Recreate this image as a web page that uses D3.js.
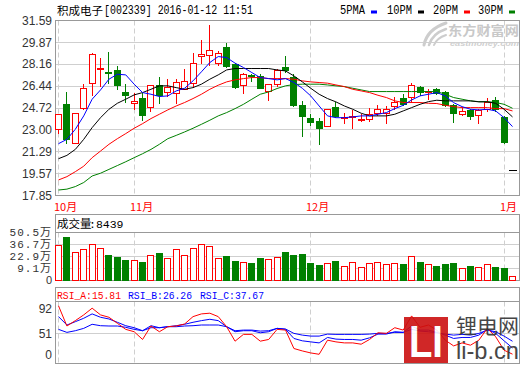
<!DOCTYPE html>
<html>
<head>
<meta charset="utf-8">
<script src="https://cdn.jsdelivr.net/npm/d3@7"></script>
<style>
  body { margin: 0; background: #fff; }
  svg { display: block; }
  text { font-family: "Liberation Sans", Arial, sans-serif; }
</style>
</head>
<body>
<div id="chart"></div>
<script>
// ---------------- data ----------------
const opens  = [23.10,25.01,22.00,24.75,26.67,27.78,27.52,27.69,26.01,25.15, 25.54,24.83,26.51,26.01,25.93,26.25,26.72,28.78,28.90,28.24, 29.50,28.16,26.53,27.35,27.24,26.06,26.64,27.90,27.16,24.93, 23.96,23.70,23.31,24.83,23.94,24.07,23.75,23.88,24.36,24.36, 24.88,25.54,25.62,26.40,25.98,26.25,26.01,24.93,24.28,24.54, 24.15,24.67,25.33,24.02,19.85];
const highs  = [24.28,25.98,24.36,26.64,29.03,28.68,29.08,28.03,26.64,25.93, 25.93,26.53,27.19,26.98,27.03,27.77,29.00,30.02,31.20,29.16, 29.84,28.29,27.50,27.40,27.40,26.60,27.77,28.82,27.37,25.28, 24.23,23.96,24.62,25.20,24.36,24.54,24.23,24.70,24.96,24.88, 25.59,25.80,26.72,26.45,26.25,26.32,26.06,25.00,24.83,24.67, 24.62,25.54,25.59,24.10,19.85];
const lows   = [22.78,22.00,21.95,24.67,25.72,26.46,26.72,26.25,25.22,24.67, 23.75,24.49,25.14,25.67,25.09,26.20,26.40,28.24,28.10,28.10, 27.90,26.30,25.93,26.85,26.30,25.35,26.46,27.55,24.90,22.52, 23.36,21.92,23.30,24.05,23.52,23.18,23.70,23.70,24.15,23.57, 24.67,24.93,25.20,25.72,25.46,25.80,24.88,23.62,24.20,23.83, 23.52,24.49,24.49,22.00,19.85];
const closes = [24.28,22.26,24.36,26.32,28.95,27.85,27.48,26.53,25.75,25.28, 24.17,26.51,25.75,26.40,26.80,26.85,28.29,28.95,29.30,29.02, 28.00,26.40,27.37,27.30,26.32,26.59,27.69,27.72,24.96,24.10, 23.62,23.13,24.62,24.10,23.98,24.12,23.88,24.28,24.67,24.62, 25.20,25.01,26.51,25.98,26.03,25.93,24.93,24.36,24.49,24.10, 24.54,25.20,24.62,22.05,19.85];

// volume, in 万
const volumes = [36.1,45.7,27.7,31.5,36.9,32.3,24.6,22.3,19.2,18.9, 16.6,24.3,26.9,20.8,31.2,24.3,32.3,36.9,34.6,20.8, 23.5,17.7,16.2,15.1,21.2,19.7,22.0,28.4,24.6,25.8, 15.4,13.1,15.1,17.7,11.6,16.2,10.5,15.1,16.2,13.9, 15.1,14.3,23.8,16.6,13.9,12.0,13.9,15.4,9.3,12.0, 10.5,13.9,10.8,9.7,0.8439];

const ma5  = [21.92,22.26,23.05,24.10,25.41,26.14,26.98,27.37,27.32,26.59, 25.93,25.80,25.62,25.67,26.06,26.27,26.85,27.56,28.29,28.76, 28.68,28.24,27.90,27.50,27.11,27.03,26.93,27.03,26.72,26.27, 25.67,24.88,24.10,23.96,23.96,24.02,24.10,24.10,24.23,24.36, 24.67,24.93,25.35,25.67,25.80,25.93,25.67,25.14,24.83,24.62, 24.57,24.62,24.49,23.96,23.26];
const ma10 = [20.74,21.00,21.47,22.26,23.18,23.96,24.62,25.09,25.41,25.75, 25.93,26.19,26.46,26.46,26.32,26.19,26.32,26.59,26.98,27.32, 27.71,27.82,27.82,27.82,27.82,27.82,27.71,27.63,27.24,26.77, 26.27,25.80,25.46,25.20,24.88,24.62,24.31,24.10,24.10,24.10, 24.23,24.49,24.75,25.01,25.22,25.33,25.28,25.28,25.28,25.28, 25.20,25.20,25.09,24.62,24.02];
const ma20 = [19.07,19.33,19.72,20.15,20.82,21.34,21.87,22.31,22.71,23.13, 23.49,23.89,24.23,24.57,24.88,25.15,25.46,25.80,26.19,26.51, 26.77,26.93,27.03,27.11,27.11,27.03,27.03,27.03,26.98,26.85, 26.77,26.72,26.67,26.53,26.40,26.19,26.06,25.93,25.72,25.54, 25.28,25.15,25.15,25.15,25.09,25.07,24.93,24.83,24.75,24.75, 24.75,24.75,24.67,24.67,24.49];
const ma30 = [18.28,18.35,18.55,18.87,19.38,19.60,19.90,20.20,20.50,20.82, 21.13,21.47,21.87,22.31,22.57,22.84,23.13,23.44,23.76,24.10, 24.36,24.67,25.01,25.41,25.80,25.98,26.25,26.46,26.56,26.59, 26.59,26.59,26.53,26.46,26.40,26.27,26.14,26.01,26.01,26.01, 26.01,26.01,26.01,26.01,26.01,26.01,25.80,25.54,25.41,25.28, 25.22,25.22,25.15,25.01,24.70];

const rsiA = [97.7,63.5,72.6,82.3,93.7,82.3,78.3,68.1,57.8,53.8, 40.7,63.5,53.8,62.3,63.5,66.9,79.4,84.0,85.2,79.4, 62.3,37.8,49.3,49.3,37.8,40.7,57.8,56.6,25.4,21.3, 17.9,15.6,39.5,36.6,34.9,34.9,32.7,40.7,52.0,51.0, 60.6,56.6,80.6,61.3,65.2,56.6,39.5,29.8,34.9,31.0, 39.5,59.5,45.2,22.5,15.81];
const rsiB = [79.4,65.2,70.8,76.6,84.0,78.3,75.4,69.8,64.0,60.6, 55.5,64.0,60.6,62.3,64.0,66.4,69.8,72.6,74.9,72.6, 62.3,53.8,55.5,55.5,52.0,53.8,59.5,57.8,42.4,38.4, 36.6,34.9,44.1,41.3,40.7,40.7,39.5,43.5,49.8,49.8, 53.8,52.7,63.5,56.6,56.6,52.7,48.1,42.4,44.1,44.1, 48.1,57.8,51.0,38.4,26.26];
const rsiC = [57.8,52.7,55.5,59.5,66.4,64.0,63.5,63.5,61.3,57.8, 55.5,60.6,60.6,62.3,62.3,63.5,64.0,65.2,65.2,65.2, 62.3,55.5,56.6,56.6,54.9,55.5,59.5,58.4,51.0,48.1, 46.4,46.4,49.8,49.3,49.3,49.3,49.3,49.8,51.0,51.0, 52.7,52.7,57.8,54.9,53.8,52.0,49.8,48.1,49.3,48.1, 51.0,56.6,53.8,46.4,37.67];

// axes / ticks
const priceTicks = [31.59, 29.87, 28.16, 26.44, 24.72, 23.00, 21.29, 19.57, 17.85];
const volTicks = [50.5, 36.7, 22.9, 9.1];
const volTickLabels = ["50.5万", "36.7万", "22.9万", "9.1万"];
const rsiTicks = [92, 51, 0];
const monthIdx = [0, 9, 30, 53];
const monthLabels = ["10月", "11月", "12月", "1月"];

const stockTitle = "积成电子";
const stockInfo = "[002339] 2016-01-12 11:51";
const maNames = ["5PMA", "10PM", "20PM", "30PM"];
const rsiNames = ["RSI_A", "RSI_B", "RSI_C"];

// ---------------- setup ----------------
const red = "#ff0000", green = "#008000", blue = "#0000ff";
const gridColor = "#cfcfcf", borderColor = "#999";
const panelL = 55.5, panelR = 519.5;

const svg = d3.select("#chart").append("svg")
  .attr("width", 520).attr("height", 365);

const n = closes.length;
const x = d3.scaleLinear().domain([0, n - 1]).range([58, 512]);
const px = i => Math.round(x(i));

const yP = d3.scaleLinear().domain([17.85, 31.59]).range([195.5, 20.5]);
const yV = d3.scaleLinear().domain([-4.7, 50.5]).range([280.5, 232.5]);
const yR = d3.scaleLinear().domain([0, 105]).range([363.5, 301.5]);
const snap = v => Math.round(v - 0.5) + 0.5;

const candles = d3.range(n).map(i => ({
  i, o: opens[i], h: highs[i], l: lows[i], c: closes[i], v: volumes[i]
}));
const kColor = d => d.c > d.o ? red : d.c < d.o ? green : "#000";

// ---------------- title + legend ----------------
svg.append("text").attr("x", 57).attr("y", 14.5)
  .style("font-family", "'Noto Sans CJK SC'").style("font-size", "11.5px")
  .attr("fill", "#000").text(stockTitle);
svg.append("text").attr("x", 104).attr("y", 14)
  .style("font-family", "'Liberation Mono', monospace").style("font-size", "12px")
  .attr("textLength", 149).attr("lengthAdjust", "spacingAndGlyphs")
  .attr("fill", "#000").text(stockInfo);

const legendX = [340, 387, 433, 478];
const maColors = [blue, "#000", red, green];
maNames.forEach((name, k) => {
  svg.append("text").attr("x", legendX[k]).attr("y", 14)
    .style("font-family", "'Liberation Mono', monospace").style("font-size", "12px")
    .attr("textLength", 25).attr("lengthAdjust", "spacingAndGlyphs")
    .attr("fill", "#000").text(name);
  svg.append("rect").attr("x", legendX[k] + 31).attr("y", 10.5)
    .attr("width", 6).attr("height", 3).attr("fill", maColors[k]);
});

// eastmoney watermark
const em = svg.append("g").attr("fill", "none").attr("stroke", "#cdcdcd").attr("stroke-linecap", "round");
em.append("path").attr("d", "M424,45 C426,35 434,27 446,23").attr("stroke-width", 3);
em.append("path").attr("d", "M429,45 C431,38 437,32 446,29").attr("stroke-width", 2.5);
em.append("path").attr("d", "M434,45 C436,40 440,37 446,35").attr("stroke-width", 2);
svg.append("text").attr("x", 448).attr("y", 35)
  .style("font-family", "'Noto Sans CJK SC'").style("font-size", "13px").style("font-weight", "bold")
  .attr("textLength", 71).attr("lengthAdjust", "spacingAndGlyphs")
  .attr("fill", "#c8c8c8").text("东方财富网");
svg.append("text").attr("x", 450).attr("y", 45.5)
  .style("font-size", "8px").style("font-weight", "bold").style("font-style", "italic")
  .attr("textLength", 69).attr("lengthAdjust", "spacingAndGlyphs")
  .attr("fill", "#d0d0d0").text("eastmoney.com");

// ---------------- panels ----------------
function panel(top, bottom, header) {
  svg.append("rect").attr("x", panelL).attr("y", top)
    .attr("width", panelR - panelL).attr("height", bottom - top)
    .attr("fill", "none").attr("stroke", borderColor);
  if (header) {
    svg.append("line").attr("x1", panelL).attr("x2", panelR)
      .attr("y1", header).attr("y2", header).attr("stroke", borderColor);
  }
}
function monthLines(top, bottom) {
  svg.append("g").selectAll("line").data(monthIdx).join("line")
    .attr("x1", i => px(i) + 0.5).attr("x2", i => px(i) + 0.5)
    .attr("y1", top).attr("y2", bottom)
    .attr("stroke", gridColor).attr("stroke-dasharray", "5,3");
}

// main price panel
svg.append("g").selectAll("line").data(priceTicks.slice(1, -1)).join("line")
  .attr("x1", panelL).attr("x2", panelR)
  .attr("y1", d => snap(yP(d))).attr("y2", d => snap(yP(d)))
  .attr("stroke", gridColor);
monthLines(yP.range()[1], yP.range()[0]);
panel(yP.range()[1], yP.range()[0]);

svg.append("g").selectAll("text").data(priceTicks).join("text")
  .attr("x", 52).attr("y", d => yP(d)).attr("dy", "0.35em")
  .attr("text-anchor", "end").style("font-size", "12px").attr("fill", "#333")
  .text(d => d.toFixed(2));

svg.append("g").selectAll("text").data(monthIdx).join("text")
  .attr("x", i => px(i) - 4).attr("y", 211)
  .style("font-family", "'Noto Sans CJK SC'").style("font-size", "11px")
  .attr("fill", red).text((d, k) => monthLabels[k]);

// candles
const kg = svg.append("g").selectAll("g").data(candles).join("g");
kg.append("line")
  .attr("x1", d => px(d.i) + 0.5).attr("x2", d => px(d.i) + 0.5)
  .attr("y1", d => Math.round(yP(d.h))).attr("y2", d => Math.round(yP(d.l)) + 1)
  .attr("stroke", kColor);
kg.each(function (d) {
  const g = d3.select(this), p = px(d.i);
  const top = Math.round(yP(Math.max(d.o, d.c)));
  const bot = Math.round(yP(Math.min(d.o, d.c)));
  if (d.c > d.o) {
    g.append("rect").attr("x", p - 2.5).attr("y", top + 0.5)
      .attr("width", 6).attr("height", Math.max(1, bot - top))
      .attr("fill", "#fff").attr("stroke", red);
  } else if (d.c < d.o) {
    g.append("rect").attr("x", p - 3).attr("y", top)
      .attr("width", 7).attr("height", Math.max(2, bot - top + 1))
      .attr("fill", green);
  } else {
    g.append("line").attr("x1", p - 3).attr("x2", p + 5)
      .attr("y1", top + 0.5).attr("y2", top + 0.5).attr("stroke", "#000");
  }
});

// moving averages
const maLine = d3.line().x((d, i) => x(i) + 0.5).y(d => yP(d));
[ma30, ma20, ma10, ma5].forEach((s, k) => {
  svg.append("path").datum(s).attr("d", maLine)
    .attr("fill", "none").attr("stroke", [green, red, "#000", blue][k]).attr("stroke-width", 1);
});

// ---------------- volume panel ----------------
svg.append("g").selectAll("line").data(volTicks.slice(1)).join("line")
  .attr("x1", panelL).attr("x2", panelR)
  .attr("y1", d => snap(yV(d))).attr("y2", d => snap(yV(d)))
  .attr("stroke", gridColor);
monthLines(yV.range()[1], yV.range()[0]);
panel(214.5, yV.range()[0], yV.range()[1]);

svg.append("text").attr("x", 57).attr("y", 227.5)
  .style("font-family", "'Noto Sans CJK SC'").style("font-size", "11.5px")
  .attr("fill", "#000").text("成交量");
svg.append("text").attr("x", 89).attr("y", 227.5)
  .style("font-family", "'Liberation Mono', monospace").style("font-size", "11.5px")
  .attr("fill", "#000").text(":" + Math.round(volumes[n - 1] * 10000));

const volLabelFont = "'Liberation Mono', 'Noto Sans CJK SC', monospace";
svg.append("g").selectAll("text").data(volTicks).join("text")
  .attr("x", 52).attr("y", d => yV(d)).attr("dy", "0.35em")
  .attr("text-anchor", "end").style("font-family", volLabelFont).style("font-size", "11px")
  .style("letter-spacing", "1px")
  .attr("fill", "#333").text((d, k) => volTickLabels[k]);
svg.append("text").attr("x", 52).attr("y", yV.range()[0]).attr("dy", "0.35em")
  .attr("text-anchor", "end").style("font-size", "11px").attr("fill", "#333").text("0");

svg.append("g").selectAll("rect").data(candles).join("rect")
  .each(function (d) {
    const r = d3.select(this), p = px(d.i);
    const top = Math.round(yV(d.v));
    const bot = Math.round(yV.range()[0]);
    if (d.c >= d.o) {
      r.attr("x", p - 2.5).attr("y", top + 0.5).attr("width", 6)
        .attr("height", Math.max(1, bot - top - 1)).attr("fill", "#fff").attr("stroke", red);
    } else {
      r.attr("x", p - 3).attr("y", top).attr("width", 7)
        .attr("height", bot - top).attr("fill", green);
    }
  });

// ---------------- RSI panel ----------------
svg.append("line").attr("x1", panelL).attr("x2", panelR)
  .attr("y1", snap(yR(51))).attr("y2", snap(yR(51))).attr("stroke", gridColor);
monthLines(yR.range()[1], yR.range()[0]);

const rsiSeries = [rsiA, rsiB, rsiC];
const rsiColors = [red, blue, blue];
const rsiLine = d3.line().x((d, i) => x(i) + 0.5).y(d => yR(d));
[rsiC, rsiB, rsiA].forEach((s, k) => {
  svg.append("path").datum(s).attr("d", rsiLine)
    .attr("fill", "none").attr("stroke", [blue, blue, red][k]).attr("stroke-width", 1);
});

const rsiLabelX = [57, 128, 200];
rsiNames.forEach((name, k) => {
  const s = rsiSeries[k];
  svg.append("text").attr("x", rsiLabelX[k]).attr("y", 298.5)
    .style("font-family", "'Liberation Mono', monospace").style("font-size", "11px")
    .attr("textLength", 64).attr("lengthAdjust", "spacingAndGlyphs")
    .attr("fill", rsiColors[k]).text(name + ":" + s[n - 1].toFixed(2));
});

svg.append("g").selectAll("text").data(rsiTicks).join("text")
  .attr("x", 52).attr("y", d => Math.min(yR(d), yR.range()[0] - 8.5)).attr("dy", "0.35em")
  .attr("text-anchor", "end").style("font-size", "12px").attr("fill", "#333")
  .text(d => d);

// li-b.cn watermark
const wm = svg.append("g").attr("opacity", 0.9);
wm.append("rect").attr("x", 404).attr("y", 317).attr("width", 44).attr("height", 47).attr("fill", "#cc1010");
wm.append("text").attr("x", 426).attr("y", 357).attr("text-anchor", "middle")
  .style("font-size", "44px").style("font-weight", "bold").attr("fill", "#fff")
  .attr("textLength", 34).attr("lengthAdjust", "spacingAndGlyphs").text("LI");
wm.append("text").attr("x", 456).attr("y", 334)
  .style("font-family", "'Noto Sans CJK SC'").style("font-size", "20px")
  .attr("textLength", 63).attr("lengthAdjust", "spacingAndGlyphs")
  .attr("fill", "#333").text("锂电网");
wm.append("text").attr("x", 456).attr("y", 359)
  .style("font-size", "23px")
  .attr("textLength", 63).attr("lengthAdjust", "spacingAndGlyphs")
  .attr("fill", "#333").text("li-b.cn");

panel(287.5, yR.range()[0], yR.range()[1]);
</script>
</body>
</html>
